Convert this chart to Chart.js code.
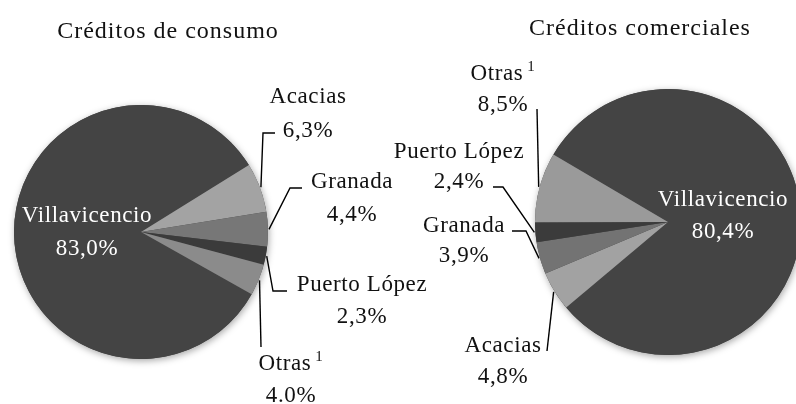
<!DOCTYPE html>
<html>
<head>
<meta charset="utf-8">
<script src="https://cdn.jsdelivr.net/npm/chart.js@4.4.1/dist/chart.umd.min.js"></script>
<style>
  html, body { margin: 0; padding: 0; background: #ffffff; }
  #wrap { position: relative; width: 796px; height: 404px; overflow: hidden; }
  #wrap canvas { position: absolute; left: 0; top: 0; }
</style>
</head>
<body>
<div id="wrap">
  <canvas id="c1" width="796" height="404"></canvas>
  <canvas id="c2" width="796" height="404"></canvas>
</div>
<script>
// ---- data ----
const categories = ['Villavicencio', 'Acacias', 'Granada', 'Puerto López', 'Otras'];
const consumoValues = [83.0, 6.3, 4.4, 2.3, 4.0];
const comercialValues = [80.4, 4.8, 3.9, 2.4, 8.5];
const consumoLabels = ['83,0%', '6,3%', '4,4%', '2,3%', '4.0%'];
const comercialLabels = ['80,4%', '4,8%', '3,9%', '2,4%', '8,5%'];
const chartTitles = ['Créditos de consumo', 'Créditos comerciales'];
const footnoteMark = '1';

// ---- styles ----
const consumoColors = ['#444444', '#a3a3a3', '#777777', '#3b3b3b', '#8b8b8b'];
const comercialColors = ['#444444', '#a2a2a2', '#737373', '#3b3b3b', '#9a9a9a'];
const FONT = '"Liberation Serif", "Times New Roman", serif';

// label layout: centre x, baselines, leader elbow/end points (page px)
const consumoLayout = [
  { cx: 87,  y1: 222, y2: 255, white: true },
  { cx: 308, y1: 103, y2: 137, path: [[263, 133], [275, 133]] },
  { cx: 352, y1: 188, y2: 221, path: [[290, 188], [302, 188]] },
  { cx: 362, y1: 291, y2: 323, path: [[273, 291], [287, 291]] },
  { cx: 291, y1: 370, y2: 402, path: [[261, 347]], sup: true }
];
const comercialLayout = [
  { cx: 723, y1: 206, y2: 238, white: true },
  { cx: 503, y1: 352, y2: 383, path: [[547, 351]] },
  { cx: 464, y1: 232, y2: 262, path: [[526, 231], [512, 231]] },
  { cx: 459, y1: 158, y2: 188, path: [[503, 187], [493, 187]] },
  { cx: 503, y1: 80,  y2: 111, path: [[537, 109]], sup: true }
];

const shadowPlugin = {
  id: 'pieShadow',
  beforeDatasetsDraw(chart) {
    const arc = chart.getDatasetMeta(0).data[0];
    if (!arc) return;
    const ctx = chart.ctx;
    ctx.save();
    ctx.shadowColor = 'rgba(0,0,0,0.35)';
    ctx.shadowBlur = 7;
    ctx.shadowOffsetX = 1;
    ctx.shadowOffsetY = 2;
    ctx.beginPath();
    ctx.arc(arc.x, arc.y, arc.outerRadius, 0, Math.PI * 2);
    ctx.fillStyle = '#444444';
    ctx.fill();
    ctx.restore();
  }
};

const labelPlugin = {
  id: 'pieLabels',
  afterDraw(chart) {
    const o = chart.options.plugins.pieLabels;
    const ctx = chart.ctx;
    const arcs = chart.getDatasetMeta(0).data;
    const LF = '23px ' + FONT;
    ctx.save();
    // title
    ctx.font = '24px ' + FONT;
    ctx.fillStyle = '#111111';
    ctx.textAlign = 'center';
    ctx.textBaseline = 'alphabetic';
    try { ctx.letterSpacing = '1px'; } catch (e) {}
    ctx.fillText(o.title, o.titleX, o.titleY);
    try { ctx.letterSpacing = '0.6px'; } catch (e) {}

    o.layout.forEach((L, i) => {
      const arc = arcs[i];
      if (L.path) {
        const mid = (arc.startAngle + arc.endAngle) / 2;
        const r = arc.outerRadius + 1;
        ctx.beginPath();
        ctx.moveTo(arc.x + Math.cos(mid) * r, arc.y + Math.sin(mid) * r);
        L.path.forEach(p => ctx.lineTo(p[0], p[1]));
        ctx.strokeStyle = '#000000';
        ctx.lineWidth = 1.4;
        ctx.stroke();
      }
      ctx.fillStyle = L.white ? '#ffffff' : '#111111';
      ctx.font = LF;
      const name = o.names[i];
      if (L.sup) {
        const w = ctx.measureText(name).width;
        ctx.font = '15px ' + FONT;
        const ws = ctx.measureText(footnoteMark).width;
        const gap = 4;
        const total = w + gap + ws;
        const left = L.cx - total / 2;
        ctx.textAlign = 'left';
        ctx.font = LF;
        ctx.fillText(name, left, L.y1);
        ctx.font = '15px ' + FONT;
        ctx.fillText(footnoteMark, left + w + gap, L.y1 - 9);
        ctx.font = LF;
        ctx.textAlign = 'center';
      } else {
        ctx.textAlign = 'center';
        ctx.fillText(name, L.cx, L.y1);
      }
      ctx.fillText(o.values[i], L.cx, L.y2);
    });
    ctx.restore();
  }
};

function makePie(id, values, colors, rotation, radius, padding, title, titleX, titleY, valueLabels, layout) {
  return new Chart(document.getElementById(id), {
    type: 'pie',
    data: {
      labels: categories,
      datasets: [{
        data: values,
        backgroundColor: colors,
        borderWidth: 0
      }]
    },
    options: {
      responsive: false,
      animation: false,
      devicePixelRatio: 1,
      rotation: rotation,
      radius: radius,
      layout: { padding: padding },
      events: [],
      plugins: {
        legend: { display: false },
        tooltip: { enabled: false },
        title: { display: false },
        pieLabels: {
          title: title, titleX: titleX, titleY: titleY,
          names: categories, values: valueLabels, layout: layout
        }
      }
    },
    plugins: [shadowPlugin, labelPlugin]
  });
}

// left pie: centre (141,232), r 127
makePie('c1', consumoValues, consumoColors, 119.4, 127,
  { left: 14, right: 528, top: 105, bottom: 45 },
  chartTitles[0], 168, 38, consumoLabels, consumoLayout);

// right pie: centre (668,222), r 133
makePie('c2', comercialValues, comercialColors, 300.5, 133,
  { left: 540, right: 0, top: 94, bottom: 54 },
  chartTitles[1], 640, 35, comercialLabels, comercialLayout);
</script>
</body>
</html>
